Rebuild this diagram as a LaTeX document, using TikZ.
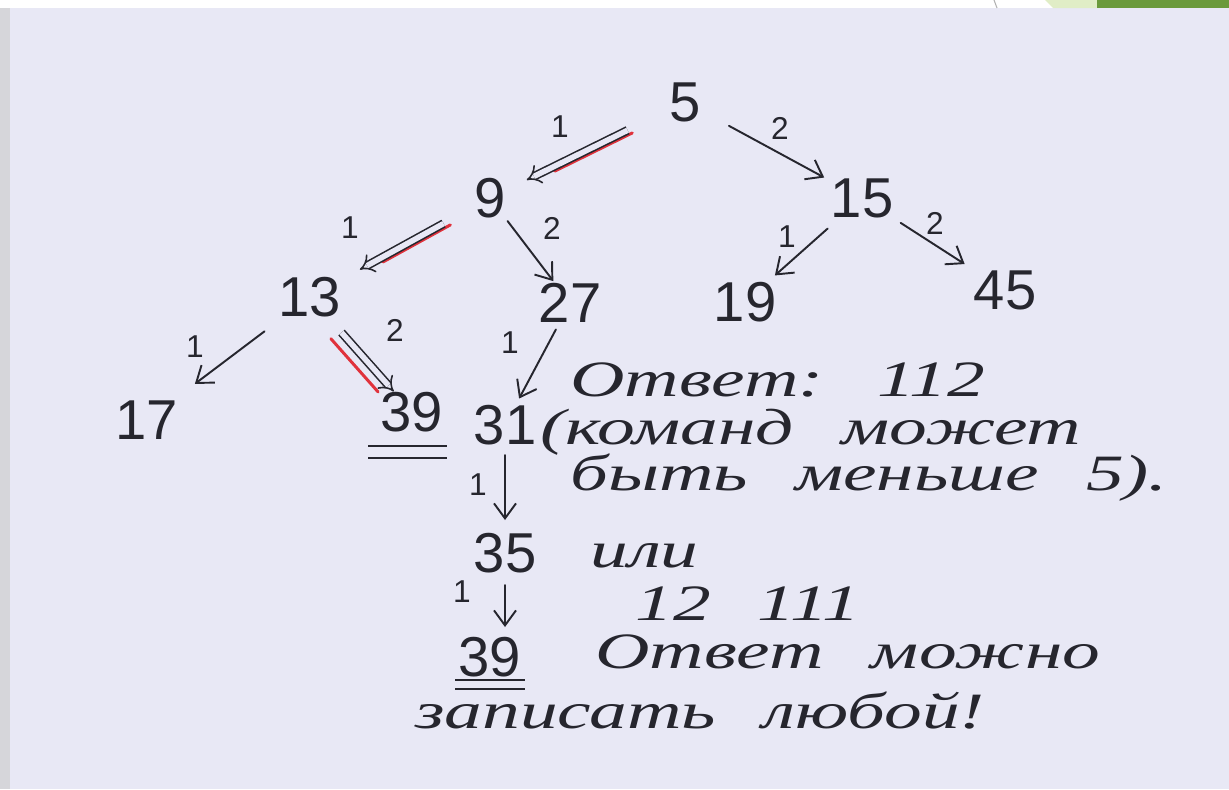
\documentclass[tikz,border=0pt]{standalone}
\usepackage{fontspec}
\setmainfont{Liberation Serif}
\newfontfamily\handfont{Liberation Serif}[FakeStretch=1.48, WordSpace=2.5]
\newfontfamily\digitfont{Liberation Sans}
\usetikzlibrary{arrows.meta,calc}
\definecolor{paper}{HTML}{E8E8F5}
\definecolor{ink}{HTML}{26262E}
\definecolor{redpen}{HTML}{E0323C}
\definecolor{edgegray}{HTML}{D6D6DA}
\definecolor{leafLight}{HTML}{E0EDC6}
\definecolor{leafDark}{HTML}{6A9A3B}
\tikzset{
  num/.style={font=\digitfont\fontsize{32}{36}\selectfont, text=ink, inner sep=1pt},
  lbl/.style={font=\digitfont\fontsize{18}{20}\selectfont, text=ink, inner sep=0pt},
  hand/.style={font=\handfont\itshape\fontsize{29}{32}\selectfont, text=ink,
     anchor=base west, inner sep=0pt},
  link/.style={draw=ink, line width=1.1pt, line cap=round,
     -{Straight Barb[length=3mm, width=4.4mm]}},
  dlink/.style={draw=ink, line width=0.9pt, double=paper, double distance=1.1mm,
     -{Implies[length=2.6mm]}},
  redmark/.style={draw=redpen, line width=1.7pt, line cap=round},
  uline/.style={draw=ink, line width=1.1pt},
}

\begin{document}
\begin{tikzpicture}[x=0.02cm, y=-0.02cm]
  \useasboundingbox (0,0) rectangle (1229,789);
  % sheet, scanner edge and the slide strip on top
  \fill[paper] (0,0) rectangle (1229,789);
  \fill[edgegray] (0,8) rectangle (10,789);
  \fill[white] (0,0) rectangle (1229,8);
  \draw[gray!60, line width=0.6pt] (994,0) -- (997,8);
  \fill[leafLight] (1045,0) -- (1097,0) -- (1100,8) -- (1053,8) -- cycle;
  \fill[leafDark] (1097,0) rectangle (1229,8);

  % tree of values
  \node[num] (n5) at (685,102) {5};
  \node[num] (n9) at (490,198) {9};
  \node[num] (n15) at (862,198) {15};
  \node[num] (n13) at (310,297) {13};
  \node[num] (n27) at (570,303) {27};
  \node[num] (n19) at (745,302) {19};
  \node[num] (n45) at (1005,290) {45};
  \node[num] (n17) at (147,420) {17};
  \node[num] (n39a) at (412,412) {39};
  \node[num] (n31) at (505,425) {31};
  \node[num] (n35) at (505,553) {35};
  \node[num] (n39b) at (490,657) {39};

  % red marks of the chosen path (under the double arrows)
  \draw[redmark, transform canvas={shift={(2,4)}}, shorten <=1.22cm, shorten >=1.4cm]
    (n5.center) -- (n9.center);
  \draw[redmark, transform canvas={shift={(2,4)}}, shorten <=0.95cm, shorten >=1.62cm]
    (n9.center) -- (n13.center);
  \draw[redmark, transform canvas={shift={(-9,8)}}, shorten <=0.9cm, shorten >=0.75cm]
    (n13.center) -- (n39a.center);

  % commands 1 and 2
  \draw[dlink, shorten <=1.28cm, shorten >=0.82cm] (n5.center) -- (n9.center);
  \draw[link, shorten <=1.0cm, shorten >=0.86cm] (n5.center) -- (n15.center);
  \draw[dlink, shorten <=1.06cm, shorten >=1.14cm] (n9.center) -- (n13.center);
  \draw[link, shorten <=0.58cm, shorten >=0.55cm] (n9.center) -- (n27.center);
  \draw[link, shorten <=0.92cm, shorten >=0.8cm] (n15.center) -- (n19.center);
  \draw[link, shorten <=0.92cm, shorten >=0.96cm] (n15.center) -- (n45.center);
  \draw[link, shorten <=1.14cm, shorten >=1.2cm] (n13.center) -- (n17.center);
  \draw[dlink, shorten <=0.95cm, shorten >=0.55cm] (n13.center) -- (n39a.center);
  \draw[link, shorten <=0.6cm, shorten >=0.6cm] (n27.center) -- (n31.center);
  \draw[link, shorten <=0.6cm, shorten >=0.66cm] (n31.center) -- (n35.center);
  \draw[link, shorten <=0.64cm, shorten >=0.6cm] (n35.center) -- (n35.center |- n39b.center);

  \node[lbl] (c59) at (560,127) {1};
  \node[lbl] (c515) at (780,128) {2};
  \node[lbl] (c913) at (350,228) {1};
  \node[lbl] (c927) at (552,228) {2};
  \node[lbl] (c1519) at (787,237) {1};
  \node[lbl] (c1545) at (935,223) {2};
  \node[lbl] (c1317) at (195,347) {1};
  \node[lbl] (c1339) at (395,330) {2};
  \node[lbl] (c2731) at (510,343) {1};
  \node[lbl] (c3135) at (478,485) {1};
  \node[lbl] (c3539) at (462,592) {1};

  % answers are underlined twice
  \draw[uline] ([shift={(-44,34)}]n39a.center) -- ++(79,0)
               ([shift={(-44,46)}]n39a.center) -- ++(79,0);
  \draw[uline] ([shift={(-35,23)}]n39b.center) -- ++(70,0)
               ([shift={(-35,32)}]n39b.center) -- ++(70,0);

  % handwritten notes
  \node[hand] (ans1) at (570,396) {Ответ: 112};
  \node[hand] (cnt) at (540,444) {(команд может};
  \node[hand] (less) at (570,490) {быть меньше 5).};
  \node[hand] (ili) at (590,567) {или};
  \node[hand] (alt) at (635,620) {12 111};
  \node[hand] (ans2) at (595,668) {Ответ можно};
  \node[hand] (any) at (415,728) {записать};
  \node[hand] (anyb) at (762,728) {любой!};
\end{tikzpicture}
\end{document}
